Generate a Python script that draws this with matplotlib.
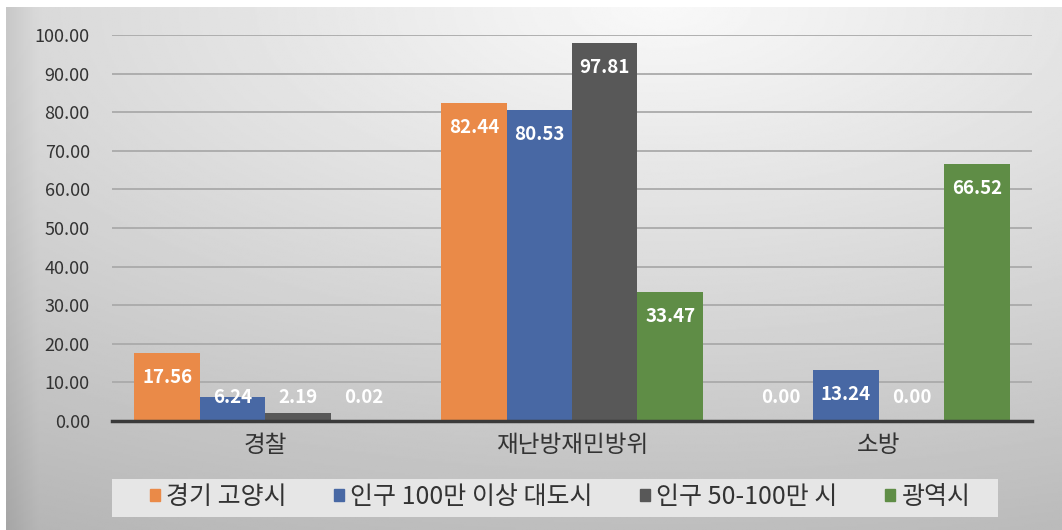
import numpy as np
import matplotlib
matplotlib.use("Agg")
import matplotlib.pyplot as plt
from matplotlib.patches import Rectangle

plt.rcParams['font.family'] = ['Noto Sans CJK KR', 'DejaVu Sans']

categories = ["경찰", "재난방재민방위", "소방"]
series_names = ["경기 고양시", "인구 100만 이상 대도시", "인구 50-100만 시", "광역시"]
goyang = [17.56, 82.44, 0.00]
big_city = [6.24, 80.53, 13.24]
mid_city = [2.19, 97.81, 0.00]
metro = [0.02, 33.47, 66.52]
yticks = [0, 10, 20, 30, 40, 50, 60, 70, 80, 90, 100]

colors = ['#EA8A48', '#4868A4', '#585858', '#5F8D46']

W, H = 1062, 530


def px(x0, y0, x1, y1):
    # pixel box (top-left origin) -> figure fraction
    return [x0 / W, 1 - y1 / H, (x1 - x0) / W, (y1 - y0) / H]


def main():
    fig = plt.figure(figsize=(W / 100, H / 100), dpi=100)
    fig.patch.set_facecolor('white')

    # gradient background
    bg = fig.add_axes(px(6, 7, W, H))
    yy, xx = np.mgrid[0:1:300j, 0:1:600j]
    d = np.sqrt(((xx - 0.62) * 1.0) ** 2 + ((yy - 0.0) * 1.1) ** 2)
    g = 0.975 - 0.21 * d
    edge = np.clip(1 - xx / 0.03, 0, 1) * 0.06
    g = g - edge
    bg.imshow(g, cmap='gray', vmin=0, vmax=1, aspect='auto', extent=[0, 1, 0, 1])
    bg.axis('off')

    ax = fig.add_axes(px(112, 35, 1032, 421))
    ax.set_facecolor('none')
    x = np.arange(len(categories))
    w = 0.2135
    data = [goyang, big_city, mid_city, metro]
    for i, vals in enumerate(data):
        pos = x + (i - 1.5) * w
        ax.bar(pos, vals, width=w, color=colors[i], edgecolor='none', zorder=3)
        for p, v in zip(pos, vals):
            ax.text(p, max(v - 6.3, 6.0), f"{v:.2f}", ha='center', va='center',
                    color='white', fontsize=13.5, fontweight='bold', zorder=4)

    ax.set_xlim(-0.5, 2.5)
    ax.set_ylim(0, 100)
    ax.set_yticks(yticks)
    ax.set_yticklabels([f"{t:.2f}" for t in yticks], fontsize=13, color='#333333',
                       fontweight='medium')
    ax.set_xticks(x)
    ax.set_xticklabels(categories, fontsize=17, color='#333333')
    ax.tick_params(axis='y', length=0, pad=16)
    ax.tick_params(axis='x', length=0, pad=9)
    ax.grid(axis='y', color='#aaaaaa', linewidth=1.3, zorder=1)
    for s in ['top', 'right', 'left']:
        ax.spines[s].set_visible(False)
    ax.spines['bottom'].set_color('#3a3a3a')
    ax.spines['bottom'].set_linewidth(2.5)
    ax.spines['bottom'].set_zorder(5)

    # legend box
    fig.patches.append(Rectangle((112 / W, 1 - 517 / H), (998 - 112) / W, 38 / H,
                                 transform=fig.transFigure, facecolor='#e6e6e6',
                                 edgecolor='none', zorder=1))
    handles = [Rectangle((0, 0), 1, 1, color=c) for c in colors]
    leg = fig.legend(handles, series_names, loc='center', ncol=4,
                     bbox_to_anchor=(560 / W, 1 - 497 / H), frameon=False,
                     fontsize=18, handlelength=0.4, handleheight=0.4,
                     handletextpad=0.25, columnspacing=1.9)
    for t in leg.get_texts():
        t.set_color('#333333')

    fig.savefig('out.png', dpi=100)


if __name__ == "__main__":
    main()
